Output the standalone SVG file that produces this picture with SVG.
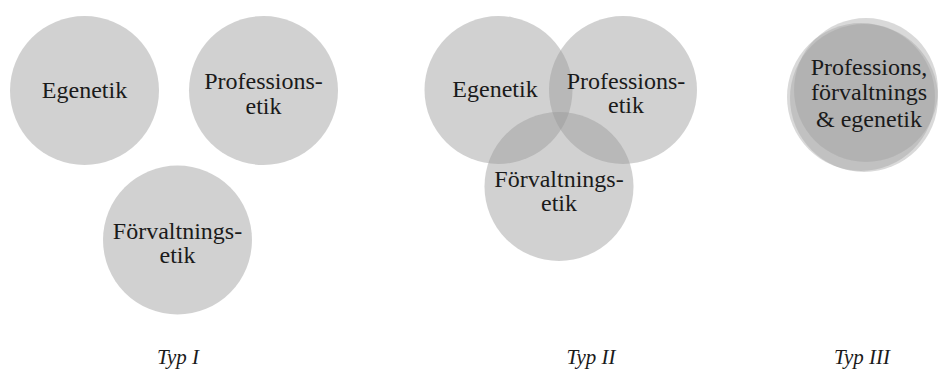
<svg xmlns="http://www.w3.org/2000/svg" width="942" height="371" viewBox="0 0 942 371">
<style>
.c{fill:#9a9a9a;fill-opacity:0.45;stroke:none}
.c3{fill:#9a9a9a;fill-opacity:0.38;stroke:none}
</style>
<rect width="942" height="371" fill="#ffffff"/>
<g id="connectors"></g>
<g id="typ1-egenetik"><circle class="c" cx="84.5" cy="90.5" r="74.5"/><text style="font-family:'Liberation Serif',serif" font-size="24" fill="#1a1a1a" text-anchor="middle" x="84.5" y="98">Egenetik</text></g>
<g id="typ1-professionsetik"><circle class="c" cx="263.5" cy="90.5" r="74.5"/><text style="font-family:'Liberation Serif',serif" font-size="24" fill="#1a1a1a" text-anchor="middle" x="263.5" y="89">Professions-</text><text style="font-family:'Liberation Serif',serif" font-size="24" fill="#1a1a1a" text-anchor="middle" x="263.5" y="114">etik</text></g>
<g id="typ1-forvaltningsetik"><circle class="c" cx="177.5" cy="240" r="74.5"/><text style="font-family:'Liberation Serif',serif" font-size="24" fill="#1a1a1a" text-anchor="middle" x="177.5" y="239">Förvaltnings-</text><text style="font-family:'Liberation Serif',serif" font-size="24" fill="#1a1a1a" text-anchor="middle" x="177.5" y="263">etik</text></g>
<g id="typ2-egenetik"><circle class="c" cx="498.5" cy="90" r="74"/><text style="font-family:'Liberation Serif',serif" font-size="24" fill="#1a1a1a" text-anchor="middle" x="495" y="97">Egenetik</text></g>
<g id="typ2-professionsetik"><circle class="c" cx="623" cy="90" r="74"/><text style="font-family:'Liberation Serif',serif" font-size="24" fill="#1a1a1a" text-anchor="middle" x="626" y="89">Professions-</text><text style="font-family:'Liberation Serif',serif" font-size="24" fill="#1a1a1a" text-anchor="middle" x="626" y="113">etik</text></g>
<g id="typ2-forvaltningsetik"><circle class="c" cx="559" cy="186.5" r="74.5"/><text style="font-family:'Liberation Serif',serif" font-size="24" fill="#1a1a1a" text-anchor="middle" x="559" y="187">Förvaltnings-</text><text style="font-family:'Liberation Serif',serif" font-size="24" fill="#1a1a1a" text-anchor="middle" x="559" y="211">etik</text></g>
<g id="typ3"><circle class="c3" cx="861" cy="97" r="74"/><circle class="c3" cx="866" cy="90" r="72"/><circle class="c3" cx="864" cy="98" r="74"/><text style="font-family:'Liberation Serif',serif" font-size="24" fill="#1a1a1a" text-anchor="middle" x="869" y="75">Professions,</text><text style="font-family:'Liberation Serif',serif" font-size="24" fill="#1a1a1a" text-anchor="middle" x="869" y="100">förvaltnings</text><text style="font-family:'Liberation Serif',serif" font-size="24" fill="#1a1a1a" text-anchor="middle" x="869" y="127">&amp; egenetik</text></g>
<g id="labels"><text style="font-family:'Liberation Serif',serif" font-size="21" font-style="italic" fill="#1a1a1a" text-anchor="middle" x="178" y="364">Typ I</text><text style="font-family:'Liberation Serif',serif" font-size="21" font-style="italic" fill="#1a1a1a" text-anchor="middle" x="591" y="364">Typ II</text><text style="font-family:'Liberation Serif',serif" font-size="21" font-style="italic" fill="#1a1a1a" text-anchor="middle" x="862" y="364">Typ III</text></g>
</svg>
